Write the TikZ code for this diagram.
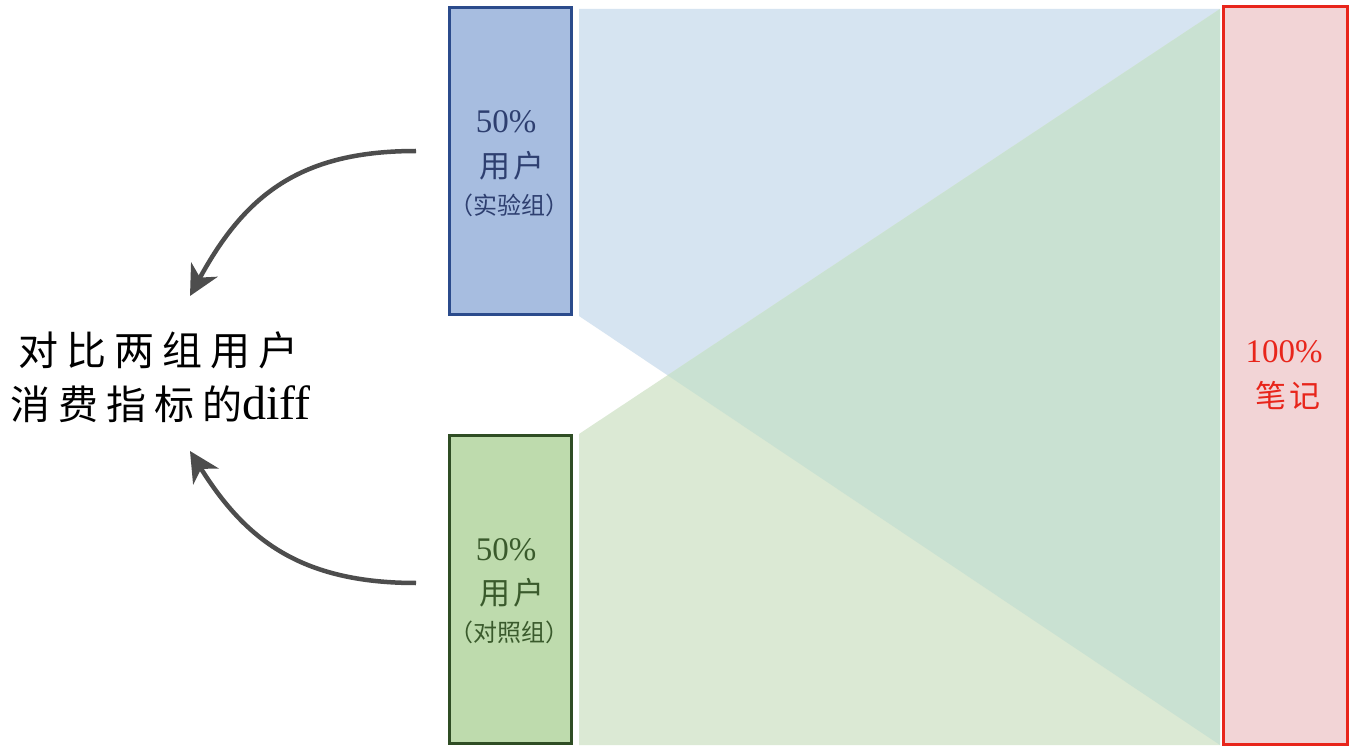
\documentclass[tikz,border=0pt]{standalone}
\usepackage{fontspec}
\setmainfont{Liberation Serif}
\newfontfamily\cjk{Noto Sans CJK SC}
\newfontfamily\cjkw[LetterSpace=20]{Noto Sans CJK SC}
\newfontfamily\cjkm[LetterSpace=8]{Noto Sans CJK SC}
\usetikzlibrary{arrows.meta}
\definecolor{bandblue}{HTML}{D6E4F1}
\definecolor{bandgreen}{HTML}{DBE9D4}
\definecolor{bandmix}{HTML}{C9E1D2}
\definecolor{boxblue}{HTML}{A7BDE0}
\definecolor{edgeblue}{HTML}{2B4B8C}
\definecolor{txtblue}{HTML}{2E3F70}
\definecolor{boxgreen}{HTML}{BEDBAD}
\definecolor{edgegreen}{HTML}{2F4D24}
\definecolor{txtgreen}{HTML}{3A5A2C}
\definecolor{boxred}{HTML}{F2D4D6}
\definecolor{edgered}{HTML}{E8251B}
\definecolor{arrowgray}{HTML}{4D4D4D}
\tikzset{
  groupbox/.style={draw, line width=3pt, minimum width=122pt, inner sep=0pt, outer sep=0pt, align=center},
  flowarrow/.style={draw=arrowgray, line width=4.5pt, -{Stealth[length=30pt, width=30pt, inset=9pt]}},
  pct/.style={font=\fontsize{33}{33}\selectfont},
  usr/.style={font=\fontsize{31}{31}\selectfont\cjkm},
  grp/.style={font=\fontsize{24}{24}\selectfont\cjk},
}
\begin{document}
\begin{tikzpicture}[x=1pt, y=-1pt]
\useasboundingbox (0,0) rectangle (1355,751);
\fill[white] (0,0) rectangle (1355,751);
% bands
\fill[bandblue] (579,9) -- (1220,9) -- (1220,745) -- (579,316) -- cycle;
\fill[bandgreen] (579,434) -- (1220,9) -- (1220,745) -- (579,745) -- cycle;
\begin{scope}
  \clip (579,9) -- (1220,9) -- (1220,745) -- (579,316) -- cycle;
  \fill[bandmix] (579,434) -- (1220,9) -- (1220,745) -- (579,745) -- cycle;
\end{scope}
% boxes
\node[groupbox, draw=edgeblue, fill=boxblue, minimum height=307pt] (exp) at (510.5,161) {};
\node[groupbox, draw=edgegreen, fill=boxgreen, minimum height=308pt] (ctl) at (510.5,589.5) {};
\node[groupbox, draw=edgered, fill=boxred, line width=3.5pt, minimum width=124pt, minimum height=738pt] (note) at (1285.5,375.5) {};
% box texts
\node[text=txtblue, pct] (exp50) at (506,122) {50\%};
\node[text=txtblue, usr] (expuser) at (512,166) {用户};
\node[text=txtblue, grp] (explab) at (509,205) {（实验组）};
\node[text=txtgreen, pct] (ctl50) at (506,550) {50\%};
\node[text=txtgreen, usr] (ctluser) at (512,593) {用户};
\node[text=txtgreen, grp] (ctllab) at (509,632) {（对照组）};
\node[text=edgered, pct] (note100) at (1284,352) {100\%};
\node[text=edgered, usr] (notelab) at (1288,396) {笔记};
% left label
\node[align=left, anchor=west, inner sep=0pt, font=\fontsize{40}{54}\selectfont] (diff) at (10,377)
  {\hspace*{8pt}{\cjkw 对比两组用户}\\{\cjkw 消费指标的}{\fontsize{48}{54}\selectfont diff}};
% arrows
\coordinate (a1) at (416,151);
\coordinate (t1) at (190,296);
\coordinate (a2) at (416,583);
\coordinate (t2) at (190,451);
\draw[flowarrow] (a1) .. controls (300,151) and (245,195) .. (t1);
\draw[flowarrow] (a2) .. controls (300,583) and (245,539) .. (t2);
\end{tikzpicture}
\end{document}
